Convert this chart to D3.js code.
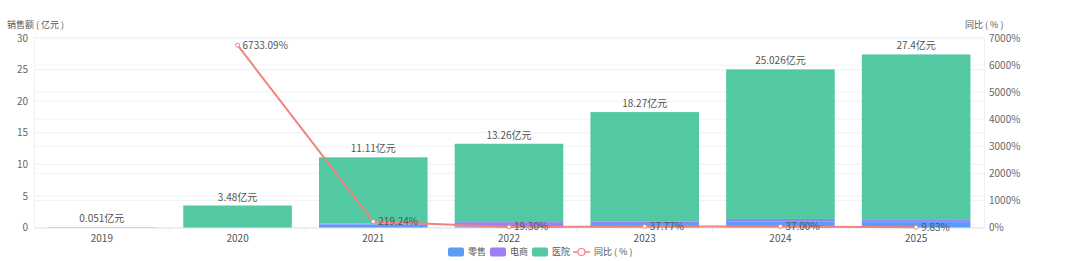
<!DOCTYPE html>
<html><head><meta charset="utf-8">
<script src="https://cdn.jsdelivr.net/npm/d3@7/dist/d3.min.js"></script>
<style>
html,body{margin:0;padding:0;background:#fff;}
svg text{font-family:"Noto Sans CJK SC","Noto Sans",sans-serif;}
</style></head>
<body><svg id="c" width="1080" height="261"></svg>
<script>
const years = ["2019","2020","2021","2022","2023","2024","2025"];
const totals = [0.051, 3.48, 11.11, 13.26, 18.27, 25.026, 27.4];
const totalLabels = ["0.051亿元","3.48亿元","11.11亿元","13.26亿元","18.27亿元","25.026亿元","27.4亿元"];
const retail = [0, 0, 0.5, 0.15, 0.55, 0.9, 1.0];
const ecommerce = [0, 0, 0.1, 0.7, 0.35, 0.45, 0.2];
const hospital = totals.map((t,i)=> +(t - retail[i] - ecommerce[i]).toFixed(3));
const yoy = [null, 6733.09, 219.24, 19.30, 37.77, 37.00, 9.83];
const leftTicks = [0,5,10,15,20,25,30];
const rightTicks = [0,1000,2000,3000,4000,5000,6000,7000];
const seriesNames = ["零售","电商","医院"];
const colors = ["#5A9CF8","#9B80F5","#52C9A3"];
const lineColor = "#F0837F";

const svg = d3.select("#c");
const L = 34, R = 984, T = 38, B = 227.5;
const x = d3.scaleBand().domain(years).range([L,R]).paddingInner(0.2).paddingOuter(0.1);
const xb = d3.scaleBand().domain(years).range([L,R]);
const y = d3.scaleLinear().domain([0,30]).range([B,T]);
const y2 = d3.scaleLinear().domain([0,7000]).range([B,T]);

// grid
svg.append("g").selectAll("line").data(leftTicks).join("line")
  .attr("x1",L).attr("x2",R).attr("y1",d=>y(d)).attr("y2",d=>y(d))
  .attr("stroke","#eef0f4").attr("stroke-width",1);
svg.append("g").selectAll("line").data(rightTicks).join("line")
  .attr("x1",L).attr("x2",R).attr("y1",d=>y2(d)).attr("y2",d=>y2(d))
  .attr("stroke","#f1f3f6").attr("stroke-width",1);

// axes
const gl = svg.append("g").attr("transform",`translate(${L},0)`)
  .call(d3.axisLeft(y).tickValues(leftTicks).tickSize(0).tickPadding(6));
gl.select(".domain").attr("stroke","#eef0f4");
gl.selectAll("text").attr("fill","#666").attr("font-size",10);
const gr = svg.append("g").attr("transform",`translate(${R},0)`)
  .call(d3.axisRight(y2).tickValues(rightTicks).tickSize(0).tickPadding(5).tickFormat(d=>d+"%"));
gr.select(".domain").attr("stroke","#eef0f4");
gr.selectAll("text").attr("fill","#666").attr("font-size",10);
const gx = svg.append("g").attr("transform",`translate(0,${B})`)
  .call(d3.axisBottom(xb).tickSize(0).tickPadding(7));
gx.select(".domain").attr("stroke","#dfe3ea");
gx.selectAll("text").attr("fill","#555").attr("font-size",10);
svg.append("g").selectAll("line").data(years.slice(1)).join("line")
  .attr("x1",d=>xb(d)).attr("x2",d=>xb(d)).attr("y1",B).attr("y2",B+4)
  .attr("stroke","#e6e9ee");

// titles
svg.append("text").attr("x",7).attr("y",28).attr("font-size",9).attr("fill","#555").text("销售额 ( 亿元 )");
svg.append("text").attr("x",965).attr("y",28).attr("font-size",9).attr("fill","#555").text("同比 ( % )");

// stacked bars
const rows = years.map((yr,i)=>({year:yr, r:retail[i], e:ecommerce[i], h:hospital[i]}));
const stack = d3.stack().keys(["r","e","h"])(rows);
svg.append("g").selectAll("g").data(stack).join("g").attr("fill",(d,i)=>colors[i])
  .selectAll("rect").data(d=>d).join("rect")
  .attr("x",d=>x(d.data.year)).attr("width",x.bandwidth())
  .attr("y",d=>y(d[1])).attr("height",d=>Math.max(0,y(d[0])-y(d[1])));
svg.append("g").selectAll("text").data(years).join("text")
  .attr("x",d=>x(d)+x.bandwidth()/2).attr("y",(d,i)=>y(totals[i])-5)
  .attr("text-anchor","middle").attr("font-size",10).attr("fill","#555")
  .text((d,i)=>totalLabels[i]);

// line
const pts = years.map((yr,i)=>({year:yr,v:yoy[i]})).filter(d=>d.v!==null);
const line = d3.line().x(d=>xb(d.year)+xb.bandwidth()/2).y(d=>y2(d.v));
svg.append("path").datum(pts).attr("d",line).attr("fill","none")
  .attr("stroke",lineColor).attr("stroke-width",2);
svg.append("g").selectAll("circle").data(pts).join("circle")
  .attr("cx",d=>xb(d.year)+xb.bandwidth()/2).attr("cy",d=>y2(d.v)).attr("r",2)
  .attr("fill","#fff").attr("stroke",lineColor).attr("stroke-width",1);
svg.append("g").selectAll("text").data(pts).join("text")
  .attr("x",d=>xb(d.year)+xb.bandwidth()/2+5).attr("y",d=>y2(d.v)+3.5)
  .attr("font-size",10).attr("fill","#555")
  .text(d=>d.v.toFixed(2)+"%");

// legend
const lg = svg.append("g");
const lx = [448,490,532];
seriesNames.forEach((n,i)=>{
  lg.append("rect").attr("x",lx[i]).attr("y",247.5).attr("width",16).attr("height",9).attr("rx",2).attr("fill",colors[i]);
  lg.append("text").attr("x",lx[i]+20).attr("y",255.2).attr("font-size",9).attr("fill","#555").text(n);
});
lg.append("line").attr("x1",573).attr("x2",590).attr("y1",252).attr("y2",252).attr("stroke",lineColor).attr("stroke-width",1.5);
lg.append("circle").attr("cx",581.5).attr("cy",252).attr("r",3.5).attr("fill","#fff").attr("stroke",lineColor).attr("stroke-width",1.2);
lg.append("text").attr("x",594).attr("y",255.2).attr("font-size",9).attr("fill","#555").text("同比 ( % )");
</script></body></html>
